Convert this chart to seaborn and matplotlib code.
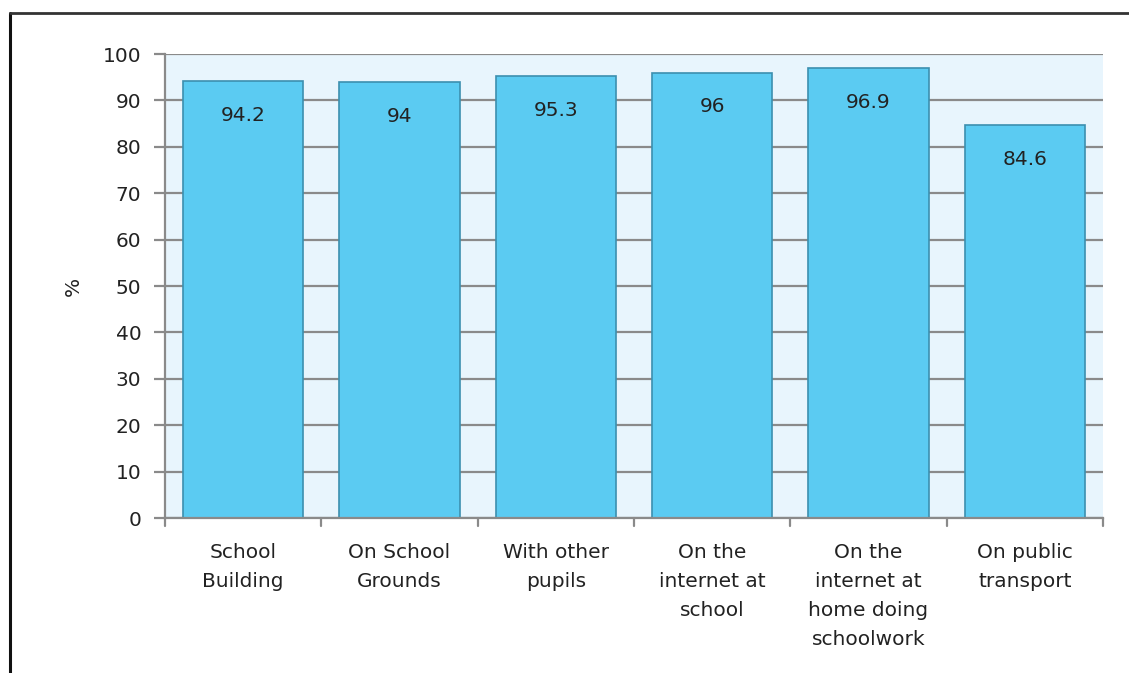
import matplotlib
matplotlib.use("Agg")
import matplotlib.pyplot as plt
import seaborn as sns
import pandas as pd
from matplotlib.lines import Line2D

categories = ["School\nBuilding", "On School\nGrounds", "With other\npupils",
              "On the\ninternet at\nschool", "On the\ninternet at\nhome doing\nschoolwork",
              "On public\ntransport"]
values = [94.2, 94, 95.3, 96, 96.9, 84.6]
value_labels = ["94.2", "94", "95.3", "96", "96.9", "84.6"]
yticks = [0, 10, 20, 30, 40, 50, 60, 70, 80, 90, 100]

sns.set_theme(style="white")
plt.rcParams['font.family'] = ['DejaVu Sans']

df = pd.DataFrame({"cat": categories, "val": values})

fig = plt.figure(figsize=(11.29, 6.73), dpi=100)
W, H = 1129, 673
ax = fig.add_axes([165 / W, 1 - 518 / H, (1103 - 165) / W, (518 - 54) / H])

sns.barplot(data=df, x="cat", y="val", ax=ax, color="#5BCBF2", saturation=1,
            width=0.77, edgecolor="#3C8FAF", linewidth=1.2, zorder=3)

FS = 14.5
ax.set_facecolor("#E8F5FD")
ax.set_ylim(0, 100)
ax.set_xlim(-0.5, 5.5)
ax.set_yticks(yticks)
ax.set_yticklabels([str(t) for t in yticks], fontsize=FS, color="#222222")
for t in yticks:
    ax.axhline(t, color="#8A8A8A", linewidth=1.6, zorder=1)
ax.tick_params(axis="y", length=8, width=1.6, color="#8A8A8A", pad=9, left=True)
ax.tick_params(axis="x", length=0, pad=18)
ax.set_xticks(range(6))
ax.set_xticklabels(categories, fontsize=FS, color="#222222", linespacing=1.67, va="top")
# boundary ticks on x axis
for b in [x - 0.5 for x in range(7)]:
    ax.plot([b, b], [0, -1.8], color="#8A8A8A", linewidth=1.6, clip_on=False, zorder=4)

for s in ["top", "right"]:
    ax.spines[s].set_visible(False)
ax.spines["left"].set_color("#8A8A8A")
ax.spines["left"].set_linewidth(1.6)
ax.spines["bottom"].set_color("#8A8A8A")
ax.spines["bottom"].set_linewidth(1.6)
ax.spines["bottom"].set_zorder(5)

ax.set_xlabel("")
ax.set_ylabel("%", fontsize=FS, color="#222222", labelpad=14)

for i, (v, lab) in enumerate(zip(values, value_labels)):
    ax.text(i, v - 7.4, lab, ha="center", va="center", fontsize=FS, color="#222222", zorder=6)

# frame lines
fig.add_artist(Line2D([10 / W, 10 / W], [0, 1 - 13 / H], color="#111111", linewidth=2.2))
fig.add_artist(Line2D([10 / W, 1], [1 - 13 / H, 1 - 13 / H], color="#333333", linewidth=2.0))

fig.savefig("out.png", dpi=100)
